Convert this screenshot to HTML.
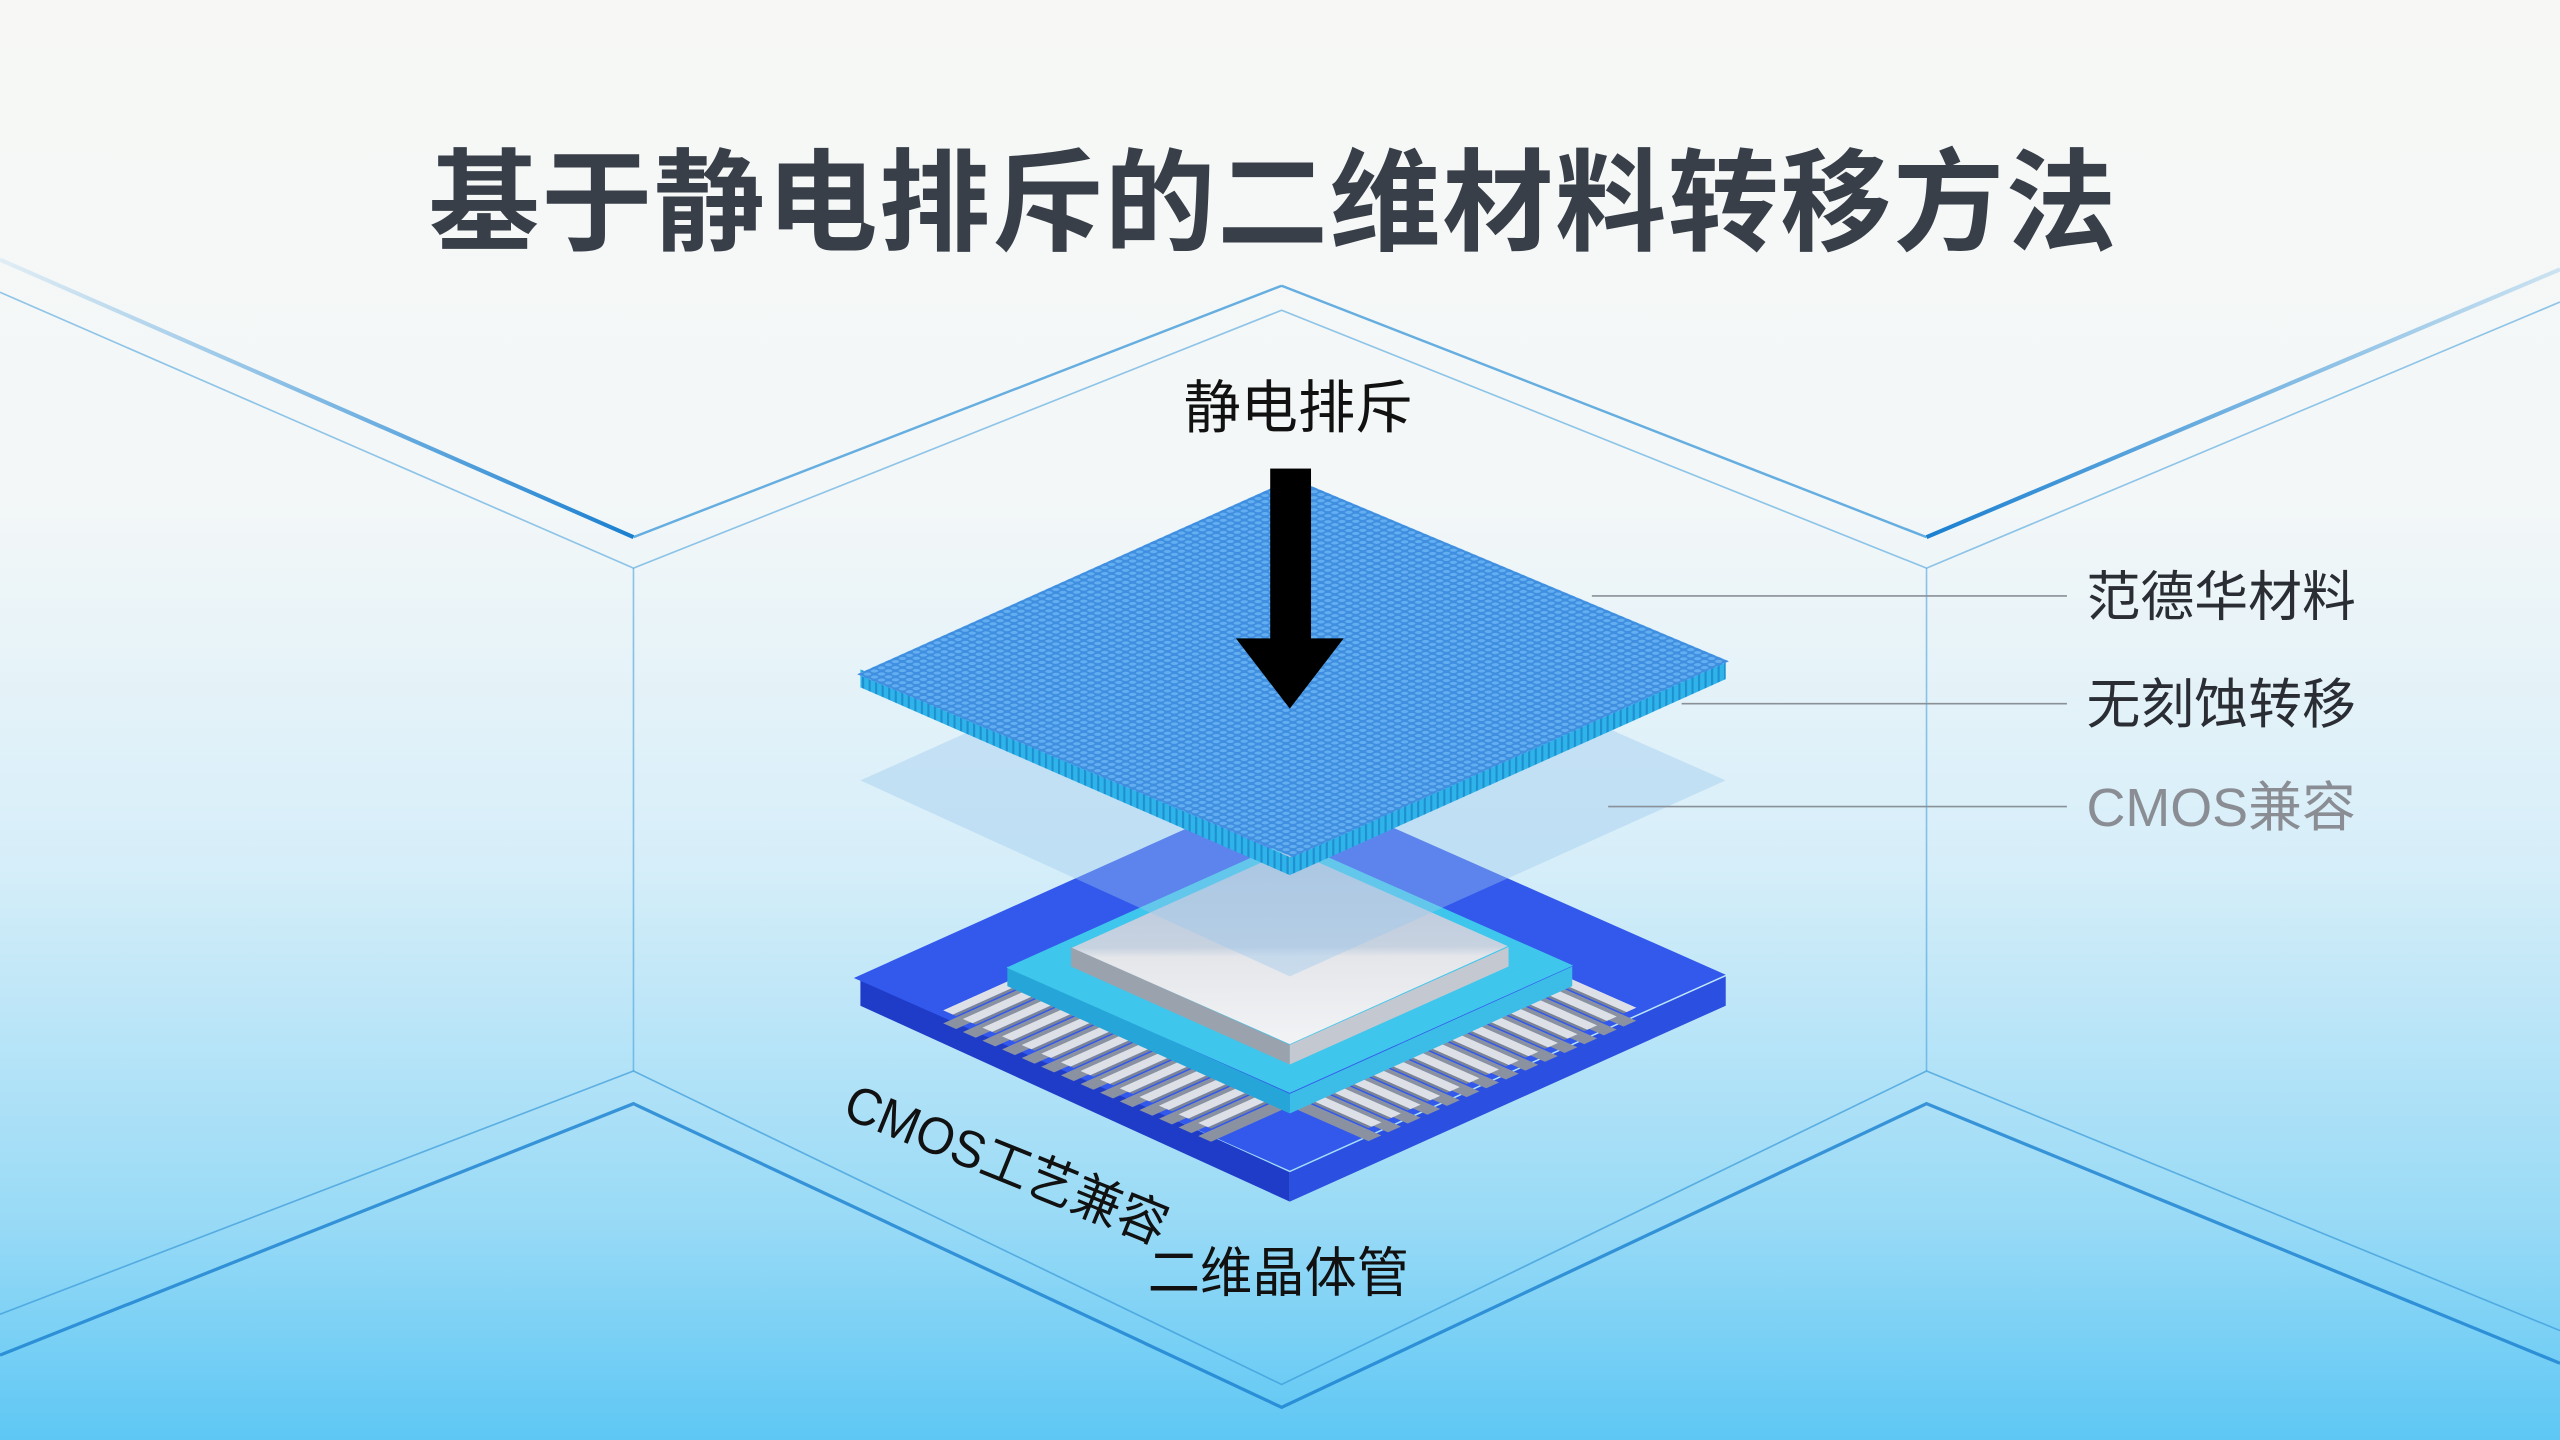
<!DOCTYPE html>
<html><head><meta charset="utf-8"><style>
html,body{margin:0;padding:0;width:2560px;height:1440px;overflow:hidden;}
svg{display:block}
text{font-family:"Liberation Sans","Noto Sans CJK SC",sans-serif;}
</style></head><body>
<svg width="2560" height="1440" viewBox="0 0 1568 882" xmlns="http://www.w3.org/2000/svg">
<defs>
<linearGradient id="bg" x1="0" y1="0" x2="0" y2="1">
<stop offset="0" stop-color="#f7f8f6"/>
<stop offset="0.35" stop-color="#f3f7f8"/>
<stop offset="0.6" stop-color="#d6eef9"/>
<stop offset="0.85" stop-color="#98daf6"/>
<stop offset="1" stop-color="#5ec7f4"/>
</linearGradient>
<linearGradient id="lnL" x1="0" y1="0" x2="1" y2="0">
<stop offset="0" stop-color="#2a8fd6" stop-opacity="0.1"/>
<stop offset="1" stop-color="#1a7fd0"/>
</linearGradient>
<linearGradient id="lnR" x1="1" y1="0" x2="0" y2="0">
<stop offset="0" stop-color="#2a8fd6" stop-opacity="0.2"/>
<stop offset="1" stop-color="#1a7fd0"/>
</linearGradient>
<pattern id="dots" patternUnits="userSpaceOnUse" width="0.032" height="0.032">
<rect width="0.032" height="0.032" fill="#3f8ee0"/>
<circle cx="0.016" cy="0.016" r="0.012" fill="#62aef0"/>
</pattern>
<pattern id="edge" patternUnits="userSpaceOnUse" width="4" height="20">
<rect width="4" height="20" fill="#2fb4ea"/>
<rect width="1.3" height="20" fill="#1e8fd0"/>
</pattern>
<pattern id="pinV" patternUnits="userSpaceOnUse" width="0.09" height="4" x="0.02">
<rect x="0" y="-2" width="0.045" height="4" fill="#dde0e6"/>
<rect x="0.045" y="-2" width="0.014" height="4" fill="#7a8496"/>
</pattern>
<pattern id="pinH" patternUnits="userSpaceOnUse" width="4" height="0.09" y="0.02">
<rect y="0" x="-2" height="0.045" width="4" fill="#dde0e6"/>
<rect y="0.045" x="-2" height="0.014" width="4" fill="#7a8496"/>
</pattern>
<pattern id="pinVd" patternUnits="userSpaceOnUse" width="0.09" height="4" x="0.02">
<rect x="0" y="-2" width="0.059" height="4" fill="#8a92a2"/>
</pattern>
<pattern id="pinHd" patternUnits="userSpaceOnUse" width="4" height="0.09" y="0.02">
<rect y="0" x="-2" height="0.059" width="4" fill="#8a92a2"/>
</pattern>
<linearGradient id="die" x1="0" y1="0" x2="1" y2="1">
<stop offset="0" stop-color="#b6c6dc"/>
<stop offset="0.5" stop-color="#c7d2e0"/>
<stop offset="0.55" stop-color="#e4e6ea"/>
<stop offset="1" stop-color="#f2f3f5"/>
</linearGradient>
</defs>
<rect width="1568" height="882" fill="url(#bg)"/>

<g fill="none">
<polyline points="0,159 388,329" stroke="url(#lnL)" stroke-width="2.5"/>
<polyline points="388,329 785,175" stroke="#2a8fd6" stroke-width="1.5" stroke-opacity="0.7"/>
<polyline points="785,175 1180,329" stroke="#2a8fd6" stroke-width="1.5" stroke-opacity="0.7"/>
<polyline points="1180,329 1568,165" stroke="url(#lnR)" stroke-width="2.5"/>
<polyline points="0,179 388,348 785,190 1180,348 1568,185" stroke="#4aa2dc" stroke-width="1" stroke-opacity="0.6"/>
<line x1="388" y1="348" x2="388" y2="656" stroke="#4aa2dc" stroke-width="1" stroke-opacity="0.6"/>
<line x1="1180" y1="348" x2="1180" y2="656" stroke="#4aa2dc" stroke-width="1" stroke-opacity="0.6"/>
<polyline points="0,805 388,656 785,848 1180,656 1568,815" stroke="#3a9ad8" stroke-width="1" stroke-opacity="0.7"/>
<polyline points="0,830 388,676 785,862 1180,676 1568,835" stroke="#1a7fd0" stroke-width="2" stroke-opacity="0.8"/>
</g>

<text x="780" y="148" text-anchor="middle" font-size="68" font-weight="bold" fill="#383f48" letter-spacing="1">基于静电排斥的二维材料转移方法</text>

<polygon points="527,598 790,718 790,736 527,616" fill="#1f3cc8"/>
<polygon points="790,718 1057,598 1057,616 790,736" fill="#2b4fe0"/>
<g transform="matrix(133.5,59,-133.5,60,790,598)">
<rect x="-1" y="-1" width="2" height="2" fill="#3258ec"/>
</g>
<g transform="matrix(133.5,59,-133.5,60,790,604)">
<rect x="-0.62" y="0.64" width="1.24" height="0.34" fill="url(#pinVd)"/>
<rect x="-0.62" y="-0.98" width="1.24" height="0.34" fill="url(#pinVd)"/>
<rect x="0.64" y="-0.62" width="0.34" height="1.24" fill="url(#pinHd)"/>
<rect x="-0.98" y="-0.62" width="0.34" height="1.24" fill="url(#pinHd)"/>
</g>
<g transform="matrix(133.5,59,-133.5,60,790,596)">
<rect x="-0.62" y="0.64" width="1.24" height="0.34" fill="url(#pinV)"/>
<rect x="-0.62" y="-0.98" width="1.24" height="0.34" fill="url(#pinV)"/>
<rect x="0.64" y="-0.62" width="0.34" height="1.24" fill="url(#pinH)"/>
<rect x="-0.98" y="-0.62" width="0.34" height="1.24" fill="url(#pinH)"/>
</g>
<polygon points="617,592 790,670 790,682 617,604" fill="#26a6d8"/>
<polygon points="790,670 963,592 963,604 790,682" fill="#3cbde8"/>
<g transform="matrix(133.5,59,-133.5,60,790,592)">
<rect x="-0.65" y="-0.65" width="1.3" height="1.3" fill="#3fc6ec"/>
</g>
<polygon points="656,580 790,640 790,652 656,592" fill="#9aa2ae"/>
<polygon points="790,640 924,580 924,592 790,652" fill="#c4c8d0"/>
<g transform="matrix(133.5,59,-133.5,60,790,580)">
<rect x="-0.5" y="-0.5" width="1" height="1" fill="url(#die)"/>
</g>

<polygon points="527,478 790,360 1057,478 790,598" fill="#9cc8ee" fill-opacity="0.4"/>

<polygon points="527,410 790,525 790,536 527,421" fill="url(#edge)"/>
<polygon points="790,525 1057,405 1057,416 790,536" fill="url(#edge)"/>
<g transform="matrix(133.5,56,-133.5,60,792,409)">
<rect x="-1" y="-1" width="2" height="2" fill="url(#dots)"/>
</g>

<rect x="778" y="287" width="25" height="108" fill="#000"/>
<polygon points="757,391 823,391 790,434" fill="#000"/>
<text x="795" y="262" text-anchor="middle" font-size="35" fill="#111">静电排斥</text>

<line x1="975" y1="365" x2="1266" y2="365" stroke="#8a9098" stroke-width="1"/>
<line x1="1030" y1="431" x2="1266" y2="431" stroke="#8a9098" stroke-width="1"/>
<line x1="985" y1="494" x2="1266" y2="494" stroke="#8a9098" stroke-width="1"/>
<text x="1278" y="377" font-size="33" fill="#2a2e34">范德华材料</text>
<text x="1278" y="443" font-size="33" fill="#2a2e34">无刻蚀转移</text>
<text x="1278" y="506" font-size="33" fill="#8a8e94">CMOS兼容</text>

<text x="515" y="684" font-size="32" fill="#111" transform="rotate(22 515 684)" textLength="210" lengthAdjust="spacingAndGlyphs">CMOS工艺兼容</text>
<text x="703" y="791" font-size="33" fill="#111" textLength="160" lengthAdjust="spacingAndGlyphs">二维晶体管</text>
</svg>
</body></html>
